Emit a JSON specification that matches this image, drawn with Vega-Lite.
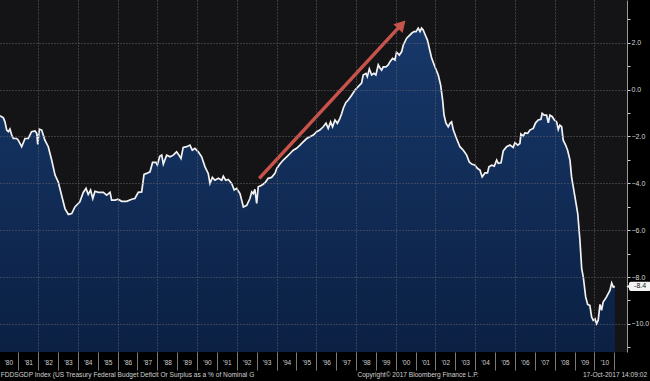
{
  "$schema": "https://vega.github.io/schema/vega-lite/v6.json",
  "width": 627,
  "height": 352,
  "autosize": {"type": "none"},
  "padding": {"left": 0, "top": 0, "right": 23, "bottom": 29},
  "background": "#000000",
  "config": {
    "view": {"fill": "#141417", "stroke": null},
    "font": "Liberation Sans"
  },
  "resolve": {"axis": {"x": "independent", "y": "independent"}},
  "datasets": {
    "s": [
      {"t":1980.08,"v":-1.12},{"t":1980.25,"v":-1.21},{"t":1980.33,"v":-1.38},{"t":1980.42,"v":-1.73},{"t":1980.50,"v":-1.80},{"t":1980.58,"v":-1.69},{"t":1980.67,"v":-1.94},{"t":1980.75,"v":-2.09},{"t":1980.92,"v":-2.09},{"t":1981.00,"v":-2.16},{"t":1981.17,"v":-2.44},{"t":1981.34,"v":-2.09},{"t":1981.50,"v":-2.09},{"t":1981.67,"v":-1.80},{"t":1981.84,"v":-1.77},{"t":1981.93,"v":-1.87},{"t":1981.98,"v":-2.34},{"t":1982.06,"v":-1.69},{"t":1982.18,"v":-1.73},{"t":1982.34,"v":-2.16},{"t":1982.51,"v":-2.44},{"t":1982.68,"v":-3.01},{"t":1982.85,"v":-3.65},{"t":1983.01,"v":-3.94},{"t":1983.18,"v":-4.51},{"t":1983.35,"v":-5.08},{"t":1983.52,"v":-5.33},{"t":1983.69,"v":-5.29},{"t":1983.85,"v":-5.01},{"t":1984.10,"v":-4.79},{"t":1984.27,"v":-4.39},{"t":1984.41,"v":-4.22},{"t":1984.52,"v":-4.48},{"t":1984.64,"v":-4.29},{"t":1984.75,"v":-4.65},{"t":1984.86,"v":-4.34},{"t":1985.03,"v":-4.39},{"t":1985.28,"v":-4.39},{"t":1985.45,"v":-4.51},{"t":1985.62,"v":-4.39},{"t":1985.70,"v":-4.72},{"t":1985.87,"v":-4.72},{"t":1986.03,"v":-4.68},{"t":1986.20,"v":-4.77},{"t":1986.46,"v":-4.77},{"t":1986.71,"v":-4.68},{"t":1986.87,"v":-4.65},{"t":1987.04,"v":-4.39},{"t":1987.21,"v":-4.37},{"t":1987.33,"v":-3.62},{"t":1987.46,"v":-3.58},{"t":1987.63,"v":-3.51},{"t":1987.76,"v":-3.11},{"t":1987.93,"v":-3.11},{"t":1988.00,"v":-3.23},{"t":1988.12,"v":-2.85},{"t":1988.22,"v":-2.80},{"t":1988.30,"v":-3.18},{"t":1988.47,"v":-2.80},{"t":1988.64,"v":-2.87},{"t":1988.80,"v":-2.80},{"t":1988.97,"v":-2.66},{"t":1989.09,"v":-2.80},{"t":1989.19,"v":-2.94},{"t":1989.30,"v":-2.47},{"t":1989.48,"v":-2.44},{"t":1989.64,"v":-2.37},{"t":1989.76,"v":-2.59},{"t":1989.89,"v":-2.51},{"t":1990.06,"v":-2.66},{"t":1990.23,"v":-2.87},{"t":1990.40,"v":-3.30},{"t":1990.56,"v":-3.58},{"t":1990.65,"v":-4.01},{"t":1990.77,"v":-3.75},{"t":1990.90,"v":-3.87},{"t":1991.07,"v":-3.79},{"t":1991.24,"v":-3.87},{"t":1991.32,"v":-3.70},{"t":1991.44,"v":-3.87},{"t":1991.57,"v":-3.84},{"t":1991.74,"v":-4.01},{"t":1991.87,"v":-4.29},{"t":1991.99,"v":-4.22},{"t":1992.16,"v":-4.44},{"t":1992.33,"v":-5.01},{"t":1992.50,"v":-4.94},{"t":1992.66,"v":-4.65},{"t":1992.75,"v":-4.37},{"t":1992.83,"v":-4.44},{"t":1992.91,"v":-4.26},{"t":1993.00,"v":-4.86},{"t":1993.08,"v":-4.15},{"t":1993.25,"v":-4.08},{"t":1993.42,"v":-3.98},{"t":1993.58,"v":-3.79},{"t":1993.75,"v":-3.75},{"t":1993.92,"v":-3.58},{"t":1994.01,"v":-3.37},{"t":1994.17,"v":-3.18},{"t":1994.34,"v":-3.01},{"t":1994.51,"v":-2.87},{"t":1994.68,"v":-2.73},{"t":1994.84,"v":-2.59},{"t":1995.01,"v":-2.51},{"t":1995.18,"v":-2.37},{"t":1995.34,"v":-2.23},{"t":1995.52,"v":-2.09},{"t":1995.68,"v":-2.02},{"t":1995.85,"v":-1.94},{"t":1996.02,"v":-1.80},{"t":1996.18,"v":-1.73},{"t":1996.35,"v":-1.59},{"t":1996.49,"v":-1.44},{"t":1996.60,"v":-1.66},{"t":1996.72,"v":-1.38},{"t":1996.82,"v":-1.59},{"t":1996.94,"v":-1.30},{"t":1997.06,"v":-1.44},{"t":1997.19,"v":-1.23},{"t":1997.28,"v":-1.02},{"t":1997.36,"v":-0.80},{"t":1997.49,"v":-0.55},{"t":1997.61,"v":-0.45},{"t":1997.78,"v":-0.24},{"t":1997.95,"v":-0.02},{"t":1998.11,"v":0.12},{"t":1998.28,"v":0.27},{"t":1998.36,"v":0.62},{"t":1998.50,"v":0.69},{"t":1998.57,"v":0.55},{"t":1998.67,"v":0.88},{"t":1998.79,"v":0.62},{"t":1998.90,"v":0.69},{"t":1999.00,"v":0.62},{"t":1999.12,"v":1.05},{"t":1999.20,"v":0.93},{"t":1999.29,"v":0.83},{"t":1999.37,"v":0.97},{"t":1999.51,"v":0.97},{"t":1999.62,"v":1.05},{"t":1999.71,"v":1.19},{"t":1999.84,"v":1.33},{"t":1999.96,"v":1.26},{"t":2000.04,"v":1.59},{"t":2000.18,"v":1.47},{"t":2000.30,"v":1.62},{"t":2000.38,"v":1.90},{"t":2000.55,"v":2.19},{"t":2000.68,"v":2.30},{"t":2000.80,"v":2.40},{"t":2000.92,"v":2.47},{"t":2001.02,"v":2.47},{"t":2001.13,"v":2.62},{"t":2001.22,"v":2.47},{"t":2001.30,"v":2.62},{"t":2001.38,"v":2.54},{"t":2001.47,"v":2.36},{"t":2001.59,"v":2.12},{"t":2001.69,"v":1.76},{"t":2001.81,"v":1.33},{"t":2001.97,"v":0.97},{"t":2002.14,"v":0.62},{"t":2002.26,"v":0.19},{"t":2002.36,"v":-0.45},{"t":2002.43,"v":-1.09},{"t":2002.53,"v":-1.44},{"t":2002.64,"v":-1.59},{"t":2002.73,"v":-1.44},{"t":2002.81,"v":-1.38},{"t":2002.90,"v":-1.73},{"t":2003.06,"v":-2.09},{"t":2003.23,"v":-2.44},{"t":2003.40,"v":-2.59},{"t":2003.57,"v":-2.80},{"t":2003.70,"v":-3.09},{"t":2003.82,"v":-3.18},{"t":2003.99,"v":-3.23},{"t":2004.12,"v":-3.37},{"t":2004.24,"v":-3.44},{"t":2004.35,"v":-3.73},{"t":2004.49,"v":-3.56},{"t":2004.62,"v":-3.56},{"t":2004.69,"v":-3.30},{"t":2004.83,"v":-3.23},{"t":2004.96,"v":-3.27},{"t":2005.08,"v":-3.01},{"t":2005.16,"v":-3.15},{"t":2005.30,"v":-3.13},{"t":2005.41,"v":-2.62},{"t":2005.58,"v":-2.44},{"t":2005.75,"v":-2.37},{"t":2005.91,"v":-2.47},{"t":2006.00,"v":-2.27},{"t":2006.14,"v":-2.37},{"t":2006.25,"v":-2.30},{"t":2006.30,"v":-1.90},{"t":2006.42,"v":-1.99},{"t":2006.50,"v":-1.85},{"t":2006.64,"v":-1.87},{"t":2006.75,"v":-1.73},{"t":2006.92,"v":-1.66},{"t":2007.04,"v":-1.42},{"t":2007.17,"v":-1.30},{"t":2007.31,"v":-1.27},{"t":2007.37,"v":-1.02},{"t":2007.47,"v":-1.09},{"t":2007.59,"v":-1.09},{"t":2007.68,"v":-1.42},{"t":2007.76,"v":-1.09},{"t":2007.88,"v":-1.16},{"t":2007.98,"v":-1.30},{"t":2008.10,"v":-1.38},{"t":2008.18,"v":-1.70},{"t":2008.26,"v":-1.52},{"t":2008.35,"v":-1.59},{"t":2008.43,"v":-2.16},{"t":2008.55,"v":-2.37},{"t":2008.65,"v":-2.59},{"t":2008.77,"v":-3.01},{"t":2008.85,"v":-3.73},{"t":2009.02,"v":-4.58},{"t":2009.16,"v":-5.29},{"t":2009.27,"v":-6.43},{"t":2009.36,"v":-7.64},{"t":2009.44,"v":-8.00},{"t":2009.56,"v":-8.85},{"t":2009.66,"v":-9.17},{"t":2009.77,"v":-9.21},{"t":2009.86,"v":-9.71},{"t":2009.94,"v":-9.85},{"t":2010.03,"v":-9.78},{"t":2010.11,"v":-9.99},{"t":2010.19,"v":-9.85},{"t":2010.28,"v":-9.17},{"t":2010.36,"v":-9.42},{"t":2010.44,"v":-9.07},{"t":2010.61,"v":-8.85},{"t":2010.78,"v":-8.57},{"t":2010.87,"v":-8.26},{"t":2010.95,"v":-8.43},{"t":2011.03,"v":-8.40}
    ],
    "one": [{}]
  },
  "layer": [
    {
      "data": {"name": "s"},
      "mark": {
        "type": "area",
        "fill": {"gradient": "linear", "x1": 0, "y1": 0, "x2": 0, "y2": 1,
          "stops": [{"offset": 0, "color": "#17386a"}, {"offset": 1, "color": "#0b2043"}]}
      },
      "encoding": {
        "x": {
          "field": "t", "type": "quantitative",
          "scale": {"domain": [1980.08, 2011.64], "nice": false, "zero": false},
          "axis": {
            "title": null,
            "orient": "bottom",
            "values": [1981,1982,1983,1984,1985,1986,1987,1988,1989,1990,1991,1992,1993,1994,1995,1996,1997,1998,1999,2000,2001,2002,2003,2004,2005,2006,2007,2008,2009,2010,2011],
            "labelExpr": "\"'\" + (((datum.value - 1) % 100) < 10 ? '0' : '') + ((datum.value - 1) % 100)",
            "labelOffset": -10,
            "labelPadding": -11,
            "labelFontSize": 6.5,
            "labelColor": "#d0d0d0",
            "labelBaseline": "top",
            "labelFlush": false,
            "labelOverlap": false,
            "labelBound": false,
            "tickSize": 18,
            "tickColor": "#7a7a7a",
            "tickWidth": 1,
            "domain": false,
            "grid": false
          }
        },
        "y": {
          "field": "v", "type": "quantitative",
          "scale": {"domain": [-11.2, 3.82], "nice": false, "zero": false},
          "axis": {
            "title": null,
            "orient": "right",
            "values": [-11,-10,-9,-8,-7,-6,-5,-4,-3,-2,-1,0,1,2,3],
            "labelExpr": "datum.value % 2 == 0 ? format(datum.value, '.1f') : ''",
            "labelFontSize": 7,
            "labelColor": "#d8d8d8",
            "labelPadding": 1,
            "labelOverlap": false,
            "labelBound": false,
            "labelFlush": false,
            "tickSize": 3,
            "tickColor": "#cfcfcf",
            "domainColor": "#9a9a9a",
            "domainWidth": 1,
            "grid": false
          }
        },
        "y2": {"datum": -11.2}
      }
    },
    {
      "data": {"name": "s"},
      "mark": {"type": "line", "color": "#f2f2f2", "strokeWidth": 1.7},
      "encoding": {
        "x": {"field": "t", "type": "quantitative",
          "axis": {"title": null, "orient": "bottom", "values": [1982,1984,1986,1988,1990,1992,1994,1996,1998,2000,2002,2004,2006,2008,2010],
            "grid": true, "gridColor": "#62626c", "gridDash": [1, 2], "gridWidth": 1, "gridOpacity": 1,
            "labels": false, "ticks": false, "domain": false, "zindex": 1}},
        "y": {"field": "v", "type": "quantitative",
          "axis": {"title": null, "orient": "left", "values": [-10,-8,-6,-4,-2,0,2],
            "grid": true, "gridColor": "#62626c", "gridDash": [1, 2], "gridWidth": 1, "gridOpacity": 1,
            "labels": false, "ticks": false, "domain": false, "zindex": 1}}
      }
    },
    {
      "data": {"name": "one"},
      "mark": {"type": "rule", "color": "#c9534b", "strokeWidth": 3.5},
      "encoding": {
        "x": {"datum": 1993.13, "type": "quantitative", "axis": null},
        "y": {"datum": -3.79, "type": "quantitative", "axis": null},
        "x2": {"datum": 2000.27},
        "y2": {"datum": 2.76}
      }
    },
    {
      "data": {"name": "one"},
      "mark": {"type": "point", "shape": "triangle-up", "filled": true, "color": "#c9534b", "opacity": 1, "size": 160, "angle": 43},
      "encoding": {
        "x": {"datum": 2000.3, "type": "quantitative", "axis": null},
        "y": {"datum": 2.77, "type": "quantitative", "axis": null}
      }
    },
    {
      "data": {"name": "one"},
      "mark": {"type": "rect", "color": "#f4f4f4", "cornerRadius": 2},
      "encoding": {
        "x": {"datum": 2011.74, "type": "quantitative", "axis": null},
        "x2": {"datum": 2012.85},
        "y": {"datum": -8.2, "type": "quantitative", "axis": null},
        "y2": {"datum": -8.6}
      }
    },
    {
      "data": {"name": "one"},
      "mark": {"type": "point", "shape": "triangle-left", "filled": true, "color": "#f4f4f4", "opacity": 1, "size": 18},
      "encoding": {
        "x": {"datum": 2011.7, "type": "quantitative", "axis": null},
        "y": {"datum": -8.4, "type": "quantitative", "axis": null}
      }
    },
    {
      "data": {"name": "one"},
      "mark": {"type": "text", "color": "#111111", "fontSize": 7, "align": "center", "baseline": "middle"},
      "encoding": {
        "x": {"datum": 2012.3, "type": "quantitative", "axis": null},
        "y": {"datum": -8.4, "type": "quantitative", "axis": null},
        "text": {"value": "-8.4"}
      }
    },
    {
      "data": {"name": "one"},
      "mark": {"type": "text", "color": "#d0d0d0", "fontSize": 6.6, "align": "left", "baseline": "middle"},
      "encoding": {
        "x": {"datum": 1980.12, "type": "quantitative", "axis": null},
        "y": {"datum": -12.2, "type": "quantitative", "axis": null},
        "text": {"value": "FDDSGDP Index (US Treasury Federal Budget Deficit Or Surplus as a % of Nominal G"}
      }
    },
    {
      "data": {"name": "one"},
      "mark": {"type": "text", "color": "#d0d0d0", "fontSize": 6.6, "align": "left", "baseline": "middle"},
      "encoding": {
        "x": {"datum": 1998.07, "type": "quantitative", "axis": null},
        "y": {"datum": -12.2, "type": "quantitative", "axis": null},
        "text": {"value": "Copyright© 2017 Bloomberg Finance L.P."}
      }
    },
    {
      "data": {"name": "one"},
      "mark": {"type": "text", "color": "#d0d0d0", "fontSize": 6.6, "align": "right", "baseline": "middle"},
      "encoding": {
        "x": {"datum": 2012.65, "type": "quantitative", "axis": null},
        "y": {"datum": -12.2, "type": "quantitative", "axis": null},
        "text": {"value": "17-Oct-2017 14:09:02"}
      }
    }
  ]
}
